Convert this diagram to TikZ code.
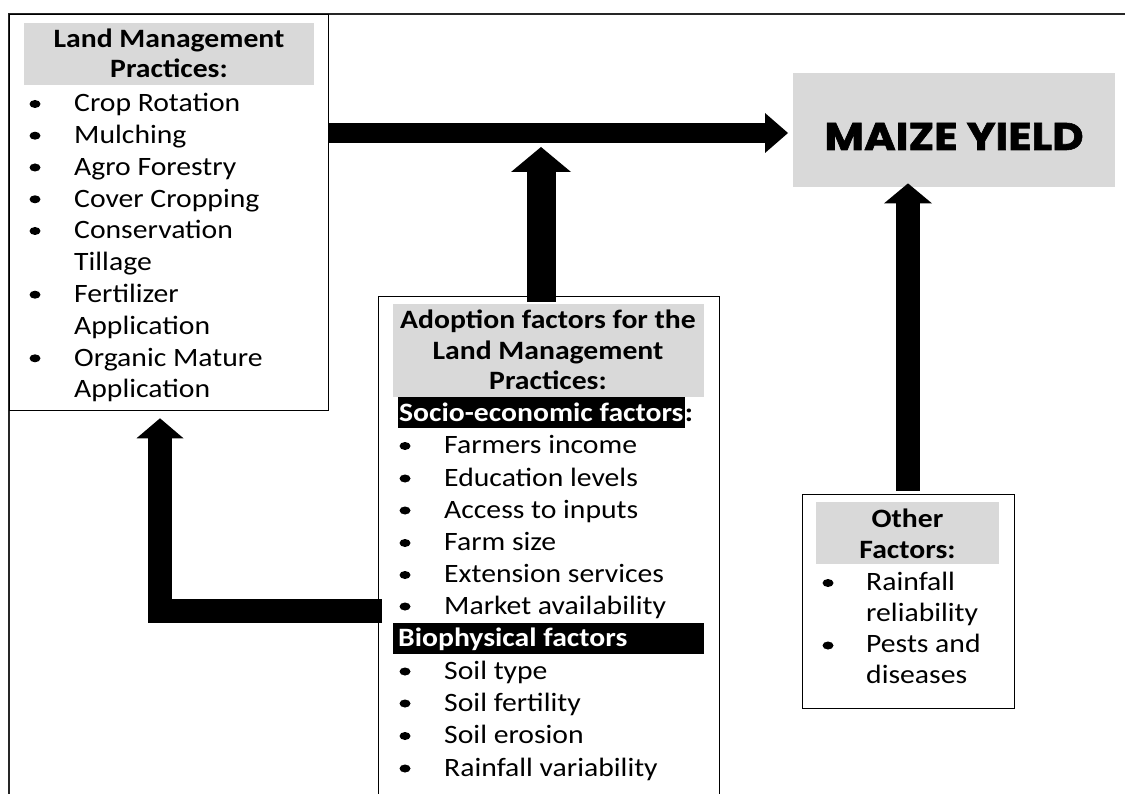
\documentclass[tikz,border=0pt]{standalone}
\usepackage{fontspec}
\setmainfont{Carlito}[FakeStretch=1.12]
\newfontfamily\maizefont{Poppins}[FakeStretch=1.12, FakeBold=1.6]
\usetikzlibrary{arrows.meta}
\definecolor{graybg}{RGB}{217,217,217}
\begin{document}
\begin{tikzpicture}[x=1pt,y=-1pt,
  txt/.style={anchor=base west, inner sep=0pt, font=\fontsize{26.5}{31.8}\selectfont},
  hdr/.style={anchor=base, inner sep=0pt, font=\fontsize{26.5}{31.8}\selectfont\bfseries},
  bar/.style={anchor=base west, inner sep=0pt, font=\fontsize{26.5}{31.8}\selectfont\bfseries, text=white},
  box/.style={draw=black, line width=1.3pt, inner sep=0pt, anchor=north west},
  bigarrow/.style={line width=#1, draw=black}
]
\useasboundingbox (0,0) rectangle (1125,794);
\clip (0,0) rectangle (1125,794);

% outer frame (only top and left edges visible)
\draw[line width=1.6pt, black!85] (9,820) -- (9,14) -- (1140,14);

% boxes
\node[box, minimum width=319pt, minimum height=396pt] (lmp) at (9,14) {};
\node[fill=graybg, inner sep=0pt, anchor=north west, minimum width=322pt, minimum height=114pt] (maize) at (793,73) {};
\node[box, minimum width=341pt, minimum height=540pt] (adopt) at (378,296) {};
\node[box, minimum width=212pt, minimum height=214pt] (other) at (802,494) {};

% gray headers
\fill[graybg] (24,23) rectangle (314,85);
\fill[graybg] (393,304) rectangle (704,397);
\fill[graybg] (816,502) rectangle (999,564);

% MAIZE YIELD
\node[anchor=base, inner sep=0pt, font=\maizefont\bfseries\fontsize{38.5}{40}\selectfont] (maizetxt) at (954,150) {MAIZE YIELD};

% Land management practices
\node[hdr] (lmph1) at (169,48) {Land Management};
\node[hdr] (lmph2) at (169,78) {Practices:};
\foreach \t/\yy/\b [count=\i] in {Crop Rotation/112/1, Mulching/143.7/1, Agro Forestry/175.5/1, Cover Cropping/207.3/1, Conservation/239/1, Tillage/271/0, Fertilizer/302.7/1, Application/334.5/0, Organic Mature/366.3/1, Application/398/0}{
  \node[txt] (lmpi\i) at (74,\yy) {\t};
  \ifnum\b=1 \fill (35,\yy-8) ellipse [x radius=5.5pt, y radius=4pt];\fi
}

% Adoption factors
\node[hdr] (adh1) at (548,328.5) {Adoption factors for the};
\node[hdr] (adh2) at (548,359.5) {Land Management};
\node[hdr] (adh3) at (548,390) {Practices:};
\node[bar, fill=black, inner xsep=1pt, text height=24pt, text depth=7pt] (socio) at (398,421) {Socio-economic factors};
\node[anchor=base west, inner sep=0pt, font=\fontsize{26.5}{31.8}\selectfont\bfseries] (colon) at (socio.base east) {:};
\foreach \t/\yy [count=\i] in {Farmers income/453.5, Education levels/486, Access to inputs/518, Farm size/550.5, Extension services/582.5, Market availability/614}{
  \node[txt] (soc\i) at (444,\yy) {\t};
  \fill (405,\yy-7.5) ellipse [x radius=5.5pt, y radius=4pt];
}
\fill[black] (393,623) rectangle (704,654);
\node[bar] (bio) at (398,646) {Biophysical factors};
\foreach \t/\yy [count=\i] in {Soil type/679, Soil fertility/711, Soil erosion/743.5, Rainfall variability/776}{
  \node[txt] (bio\i) at (444,\yy) {\t};
  \fill (405,\yy-7.5) ellipse [x radius=5.5pt, y radius=4pt];
}

% Other factors
\node[hdr] (oth1) at (907.5,527) {Other};
\node[hdr] (oth2) at (907.5,558) {Factors:};
\foreach \t/\yy/\b [count=\i] in {Rainfall/590/1, reliability/621/0, Pests and/652.5/1, diseases/683/0}{
  \node[txt] (oth\i) at (866,\yy) {\t};
  \ifnum\b=1 \fill (828,\yy-7) ellipse [x radius=5.5pt, y radius=4pt];\fi
}

% arrows
\draw[bigarrow=20pt, -{Triangle[length=23pt,width=40pt,line width=0pt]}]
  (lmp.east |- 0,133) -- ([xshift=-5pt]maize.west |- 0,133);
\draw[bigarrow=29pt, -{Triangle[length=25pt,width=60pt,line width=0pt]}]
  ([yshift=-6pt]adopt.north -| 541,0) -- (541,147);
\draw[bigarrow=24pt, -{Triangle[length=20pt,width=48pt,line width=0pt]}]
  ([yshift=3pt]other.north -| 908,0) -- ([yshift=4pt]maize.south -| 908,0);
\draw[bigarrow=24pt, -{Triangle[length=20pt,width=47pt,line width=0pt]}]
  ([xshift=4pt]adopt.west |- 0,610.5) -| ([yshift=-7pt]lmp.south -| 160,0);
\end{tikzpicture}
\end{document}
